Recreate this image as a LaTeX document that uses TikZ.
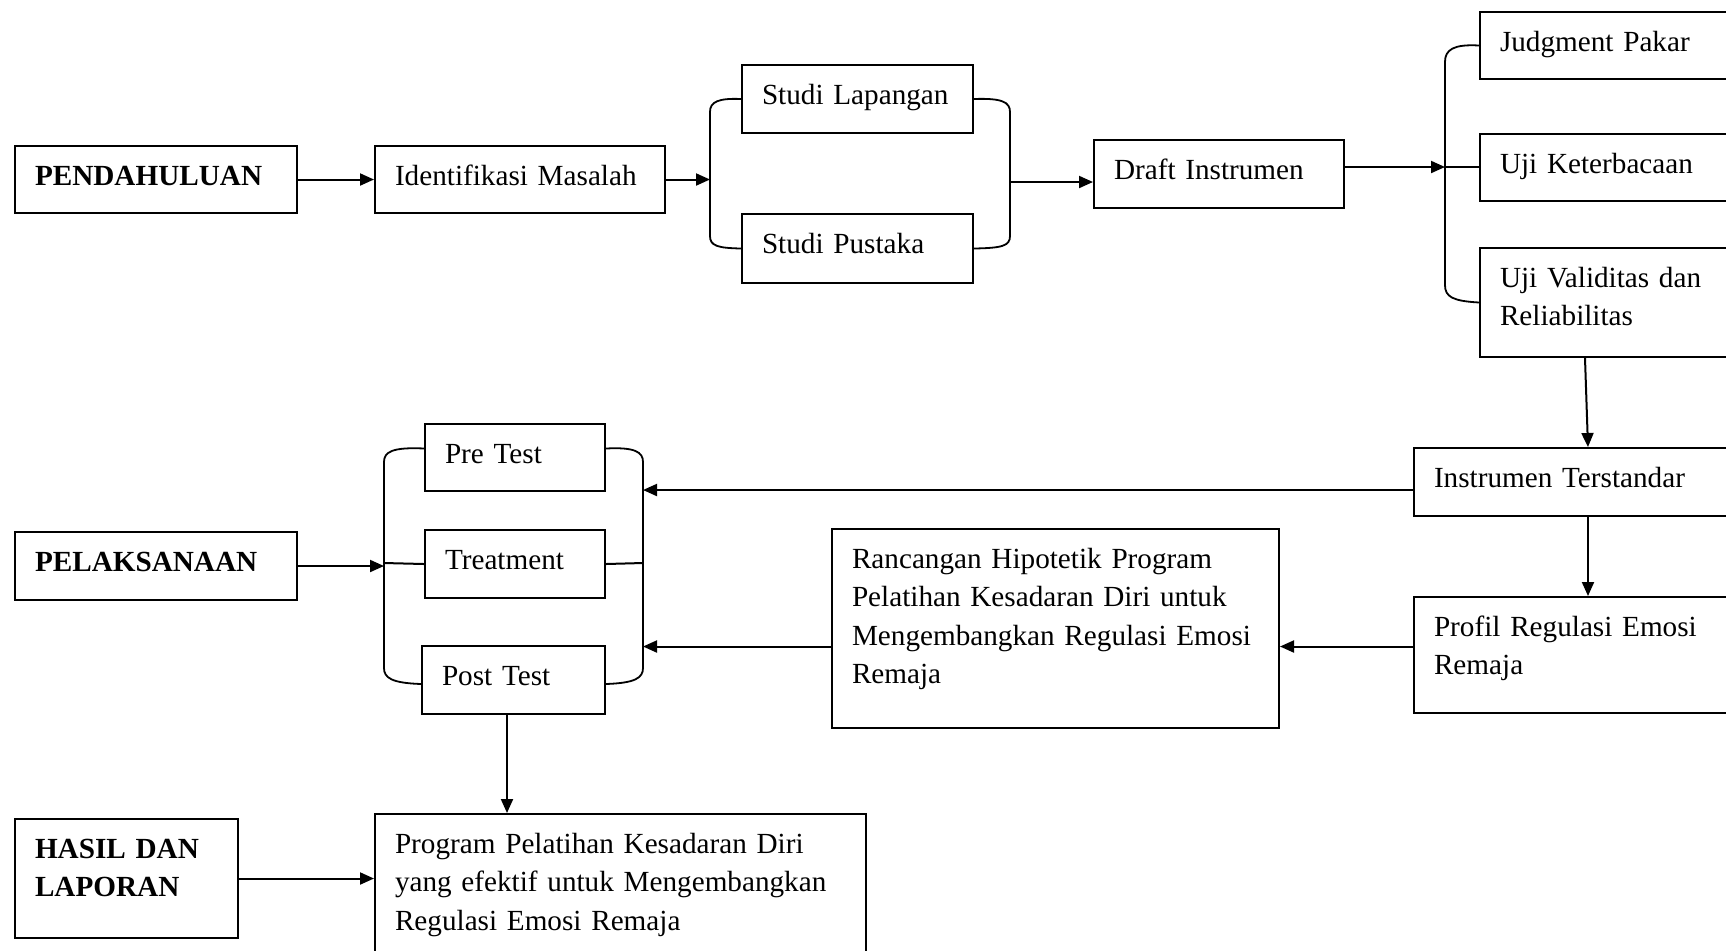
\documentclass[tikz,border=0pt]{standalone}
\usepackage{fontspec}
\setmainfont{Liberation Serif}
\usetikzlibrary{arrows.meta}

\begin{document}
\begin{tikzpicture}[x=0.5pt, y=-0.5pt, font=\fontsize{14.6}{19.3}\selectfont,
  kotak/.style={draw, line width=1pt, anchor=north west, align=left,
    inner xsep=10pt, inner ysep=9.5pt, text height=10pt},
  panah/.style={-{Triangle[length=7pt,width=6pt]}, line width=1pt},
  garis/.style={line width=1pt},
  kurung/.style={line width=0.9pt}]
  \useasboundingbox[fill=white] (0,0) rectangle (1726,950);

  % baris atas
  \node[kotak, text width=121pt, text depth=4.5pt] (pen) at (14,145) {\textbf{PENDAHULUAN}};
  \node[kotak, text width=125pt, text depth=4.5pt] (idm) at (374,145) {Identifikasi Masalah};
  \node[kotak, text width=95.5pt, text depth=5pt] (slap) at (741,64) {Studi Lapangan};
  \node[kotak, text width=95.5pt, text depth=5.5pt] (spus) at (741,213) {Studi Pustaka};
  \node[kotak, text width=105pt, text depth=5pt] (draft) at (1093,139) {Draft Instrumen};
  \node[kotak, text width=120.5pt, text depth=4.5pt] (jp) at (1479,11) {Judgment Pakar};
  \node[kotak, text width=120.5pt, text depth=4.5pt] (uk) at (1479,133) {Uji Keterbacaan};
  \node[kotak, text width=120.5pt, text depth=25.5pt] (uv) at (1479,247) {Uji Validitas dan\\Reliabilitas};

  % baris tengah
  \node[kotak, text width=153.5pt, text depth=5pt] (it) at (1413,447) {Instrumen Terstandar};
  \node[kotak, text width=153.5pt, text depth=29pt] (prof) at (1413,596) {Profil Regulasi Emosi\\Remaja};
  \node[kotak, text width=203.5pt, text depth=70.5pt] (ranc) at (831,528)
    {Rancangan Hipotetik Program\\Pelatihan Kesadaran Diri untuk\\Mengembangkan Regulasi Emosi\\Remaja};
  \node[kotak, text width=70pt, text depth=4.5pt] (pre) at (424,423) {Pre Test};
  \node[kotak, text width=70pt, text depth=5pt] (treat) at (424,529) {Treatment};
  \node[kotak, text width=71.5pt, text depth=5pt] (post) at (421,645) {Post Test};
  \node[kotak, text width=121pt, text depth=5pt] (pel) at (14,531) {\textbf{PELAKSANAAN}};

  % baris bawah
  \node[kotak, text width=225.5pt, text depth=46pt] (prog) at (374,813)
    {Program Pelatihan Kesadaran Diri\\yang efektif untuk Mengembangkan\\Regulasi Emosi Remaja};
  \node[kotak, text width=91.5pt, text depth=30.5pt] (hasil) at (14,818) {\textbf{HASIL DAN}\\\textbf{LAPORAN}};

  % titik sambung kurung
  \coordinate (k1a) at (710,182);
  \coordinate (k1b) at (1010,182);
  \coordinate (k2) at (1445,167);
  \coordinate (k3a) at (384,563);
  \coordinate (k3b) at (643,563);

  % kurung
  \draw[kurung] (slap.west) .. controls (718,98) and (710,102) .. (710,112) -- (710,236)
    .. controls (710,246) and (718,248) .. (spus.west);
  \draw[kurung] (slap.east) .. controls (1002,98) and (1010,102) .. (1010,112) -- (1010,236)
    .. controls (1010,246) and (1002,248) .. (spus.east);
  \draw[kurung] (jp.west) .. controls (1453,44) and (1445,50) .. (1445,62) -- (1445,285)
    .. controls (1445,297) and (1453,301) .. (uv.west);
  \draw[kurung] ([yshift=4.5pt]pre.west) .. controls (392,447) and (384,452) .. (384,462) -- (384,668)
    .. controls (384,678) and (392,683) .. ([yshift=-2pt]post.west);
  \draw[kurung] ([yshift=4.5pt]pre.east) .. controls (635,447) and (643,452) .. (643,462) -- (643,668)
    .. controls (643,678) and (635,683) .. ([yshift=-2pt]post.east);

  % panah
  \draw[panah] (pen) -- (idm);
  \draw[panah] (idm.east) -- (idm.east -| k1a);
  \draw[panah] (k1b) -- (k1b -| draft.west);
  \draw[panah] (draft.east |- k2) -- (k2);
  \draw[garis] (k2) -- (k2 -| uk.west);
  \draw[panah] ([xshift=53pt]uv.south west) -- ([xshift=87.5pt]it.north west);
  \draw[panah] ([xshift=87.5pt]it.south west) -- ([xshift=87.5pt]prof.north west);
  \coordinate (a0) at ([yshift=-4pt]it.west);
  \draw[panah] (a0) -- (a0 -| k3b);
  \coordinate (a1) at ([yshift=-9pt]ranc.east);
  \draw[panah] (prof.west |- a1) -- (a1);
  \coordinate (a2) at ([yshift=-9pt]ranc.west);
  \draw[panah] (a2) -- (a2 -| k3b);
  \draw[panah] (pel.east) -- (pel.east -| k3a);
  \draw[garis] (k3a) -- (treat.west);
  \draw[garis] (treat.east) -- (k3b);
  \coordinate (a3) at ([xshift=43pt]post.south west);
  \draw[panah] (a3) -- (a3 |- prog.north);
  \draw[panah] (hasil.east) -- (hasil.east -| prog.west);
\end{tikzpicture}
\end{document}
